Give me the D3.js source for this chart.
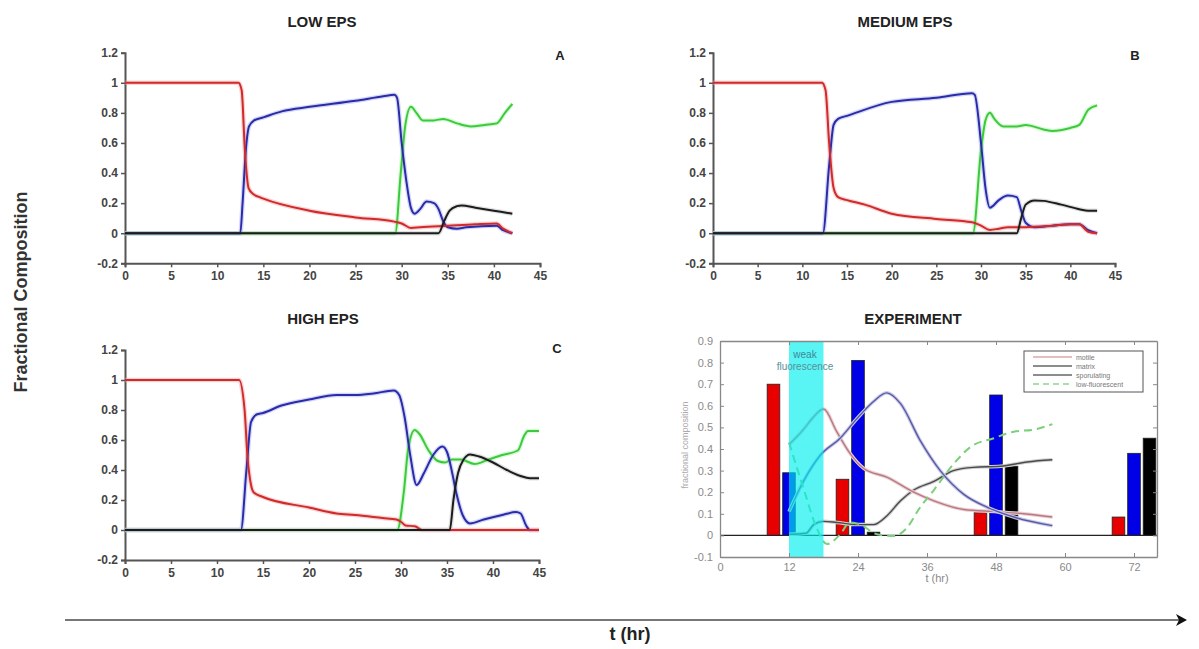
<!DOCTYPE html>
<html>
<head>
<meta charset="utf-8">
<script src="https://cdn.jsdelivr.net/npm/d3@7"></script>
<style>
  body { margin: 0; background: #fff; }
  svg { display: block; font-family: "Liberation Sans", Arial, sans-serif; }
</style>
</head>
<body>
<div id="chart"></div>
<script>
// Simulation panels: [t, fraction]
const lowMotile = [[0,1],[12.3,1],[12.65,0.95],[13,0.55],[13.4,0.3],[13.9,0.26],[14.6,0.24],[15,0.23],[20,0.15],[25,0.105],[29.2,0.077],[30,0.065],[31,0.035],[32,0.04],[35,0.05],[38,0.06],[40.3,0.065],[41,0.03],[42,0]];
const lowMatrix = [[0,0],[12.5,0],[12.75,0.2],[13.1,0.55],[13.45,0.71],[14,0.75],[15,0.77],[17,0.81],[20,0.84],[25,0.88],[28,0.91],[29.2,0.92],[29.5,0.9],[30,0.6],[30.5,0.35],[31,0.17],[31.4,0.13],[32,0.16],[32.7,0.21],[33.5,0.2],[34,0.16],[34.5,0.08],[35,0.04],[36,0.03],[37,0.04],[40.3,0.05],[41,0.02],[42,0]];
const lowLowFl = [[0,0],[29.3,0],[29.9,0.4],[30.4,0.72],[31,0.84],[31.6,0.8],[32.3,0.75],[33.5,0.75],[34.5,0.76],[36,0.73],[37.5,0.71],[39,0.72],[40.3,0.73],[41.2,0.8],[42,0.86]];
const lowSpor = [[0,0],[34,0],[34.6,0.08],[35.2,0.15],[36,0.18],[36.5,0.185],[38,0.17],[40,0.15],[41.5,0.135],[42,0.13]];

const medMotile = [[0,1],[12.2,1],[12.6,0.95],[13,0.6],[13.5,0.3],[14,0.24],[15,0.22],[17,0.19],[20,0.13],[25,0.095],[29,0.073],[30,0.05],[31,0.022],[32,0.03],[33,0.04],[35,0.04],[38,0.05],[40,0.06],[41,0.06],[42,0.01],[43,0]];
const medMatrix = [[0,0],[12.3,0],[13,0.45],[13.5,0.72],[14,0.76],[15,0.78],[20,0.873],[25,0.9],[29,0.93],[29.3,0.92],[30,0.6],[30.5,0.3],[31,0.17],[32,0.22],[33,0.25],[34,0.24],[34.5,0.15],[35,0.07],[36,0.04],[38,0.05],[40,0.06],[41,0.06],[42,0.02],[43,0]];
const medLowFl = [[0,0],[29.1,0],[30,0.55],[30.5,0.75],[31,0.8],[31.5,0.76],[32.5,0.71],[34,0.71],[35,0.72],[37,0.69],[38,0.68],[40,0.7],[41,0.72],[42,0.82],[43,0.85]];
const medSpor = [[0,0],[34,0],[34.5,0.1],[35,0.19],[36,0.218],[37,0.215],[39,0.19],[41,0.16],[42,0.15],[43,0.15]];

const highMotile = [[0,1],[12.4,1],[13,0.8],[13.3,0.5],[13.7,0.3],[14,0.25],[15,0.22],[20,0.15],[23,0.11],[25,0.1],[28,0.08],[29.5,0.07],[30,0.055],[30.5,0.03],[31.5,0.025],[32.3,0],[45,0]];
const highMatrix = [[0,0],[12.6,0],[13.2,0.4],[13.7,0.72],[14.3,0.77],[15,0.78],[17,0.83],[20,0.87],[23,0.9],[25,0.9],[27,0.91],[29.2,0.93],[29.8,0.9],[30.4,0.75],[31,0.5],[31.7,0.3],[32.5,0.38],[33.5,0.5],[34.5,0.556],[35,0.52],[35.5,0.4],[36,0.25],[36.7,0.1],[37.5,0.044],[39,0.07],[41,0.1],[42.5,0.12],[43,0.11],[43.6,0.03],[44,0],[45,0]];
const highLowFl = [[0,0],[29.6,0],[30.3,0.25],[30.8,0.55],[31.5,0.667],[32,0.64],[33,0.53],[34,0.46],[34.8,0.45],[35.5,0.47],[36.5,0.47],[38,0.44],[39.5,0.47],[41,0.5],[42.7,0.53],[43.4,0.63],[43.8,0.66],[45,0.66]];
const highSpor = [[0,0],[35.3,0],[35.7,0.2],[36.2,0.38],[36.8,0.47],[37.5,0.504],[38.5,0.49],[40,0.45],[41.5,0.4],[43,0.36],[44,0.345],[45,0.345]];

const simYTicks = [-0.2, 0, 0.2, 0.4, 0.6, 0.8, 1, 1.2];
const simXTicks = [0, 5, 10, 15, 20, 25, 30, 35, 40, 45];

// Experiment panel
const expTimes = [12, 24, 48, 72];
const expMotileBars = [0.70, 0.26, 0.105, 0.085];
const expMatrixBars = [0.29, 0.81, 0.65, 0.38];
const expSporBars = [0, 0.015, 0.32, 0.45];
const expMotile = [[12,0.42],[14.5,0.49],[16,0.54],[18,0.585],[20.3,0.48],[22.6,0.38],[25,0.31],[29,0.27],[33.7,0.2],[37.2,0.16],[42.4,0.12],[48.2,0.11],[52.8,0.1],[57.8,0.085]];
const expMatrix = [[12,0.11],[14.5,0.25],[17.4,0.37],[20.9,0.45],[23.8,0.54],[26.7,0.62],[29,0.66],[31.4,0.61],[34.8,0.44],[38.3,0.3],[42.4,0.19],[46.5,0.13],[51.1,0.085],[57.8,0.045]];
const expSpor = [[12,0.005],[15,0.01],[16.3,0.05],[18,0.065],[20.3,0.06],[23.8,0.05],[26.7,0.05],[29,0.09],[31.4,0.16],[33.7,0.21],[37.2,0.25],[40.6,0.3],[44.1,0.315],[48.8,0.32],[53.4,0.34],[57.8,0.35]];
const expLowFl = [[12,0.43],[14.5,0.22],[16.8,0.035],[18.6,-0.04],[20.9,0.005],[22.6,0.06],[24.4,0.05],[27.3,0.005],[30.2,-0.003],[32.5,0.035],[34.8,0.13],[37.2,0.21],[40.6,0.33],[43.6,0.41],[47.6,0.45],[51.1,0.48],[54.6,0.49],[57.8,0.515]];
const weakBand = [12, 18];
const expYTicks = [-0.1, 0, 0.1, 0.2, 0.3, 0.4, 0.5, 0.6, 0.7, 0.8, 0.9];
const expXTicks = [0, 12, 24, 36, 48, 60, 72];
const legendLabels = ["motile", "matrix", "sporulating", "low-fluorescent"];

const svg = d3.select("#chart").append("svg")
  .attr("width", 1199)
  .attr("height", 649);

const colors = { motile: "#d02a2a", matrix: "#2b2ba8", lowfl: "#3cca3c", spor: "#1c1c1c" };
const halos = { motile: "#f0a0a0", matrix: "#a0a8f0", lowfl: "#a8f0a8", spor: "#bbbbbb" };
const fmt = d => String(+d.toFixed(1));  // plain hyphen minus like the original

function simPanel(cfg) {
  const x = d3.scaleLinear().domain([0, 45]).range([cfg.x0, cfg.x1]);
  const y = d3.scaleLinear().domain([-0.2, 1.2]).range([cfg.y0, cfg.y1]);
  const g = svg.append("g");

  const yAxis = g.append("g")
    .attr("transform", `translate(${cfg.x0},0)`)
    .call(d3.axisLeft(y).tickValues(simYTicks).tickSize(4).tickPadding(3).tickFormat(fmt));
  const xAxis = g.append("g")
    .attr("transform", `translate(0,${cfg.y0})`)
    .call(d3.axisBottom(x).tickValues(simXTicks).tickSize(4).tickPadding(4));
  [xAxis, yAxis].forEach(a => {
    a.select(".domain").attr("stroke", "#555").attr("stroke-width", 2);
    a.selectAll(".tick line").attr("stroke", "#555").attr("stroke-width", 1.5);
    a.selectAll("text").attr("fill", "#444").attr("font-weight", "bold").attr("font-size", "12px")
      .attr("font-family", "Liberation Sans, Arial, sans-serif");
  });

  const lineFn = d3.line().x(d => x(d[0])).y(d => y(d[1])).curve(d3.curveMonotoneX);
  const series = [["lowfl", cfg.lowfl], ["matrix", cfg.matrix], ["motile", cfg.motile], ["spor", cfg.spor]];
  series.forEach(([k, data]) => {
    g.append("path").attr("d", lineFn(data)).attr("fill", "none")
      .attr("stroke", halos[k]).attr("stroke-width", 4.5).attr("opacity", 0.45);
  });
  series.forEach(([k, data]) => {
    g.append("path").attr("d", lineFn(data)).attr("fill", "none")
      .attr("stroke", colors[k]).attr("stroke-width", 2);
  });

  svg.append("text").attr("x", cfg.tx).attr("y", cfg.ty).attr("text-anchor", "middle")
    .attr("font-weight", "bold").attr("font-size", "15px").attr("fill", "#222").text(cfg.title);
  svg.append("text").attr("x", cfg.lx).attr("y", cfg.ly).attr("text-anchor", "middle")
    .attr("font-weight", "bold").attr("font-size", "13px").attr("fill", "#222").text(cfg.letter);
}

simPanel({ x0: 125, x1: 540, y0: 263.3, y1: 52.7, title: "LOW EPS", tx: 322, ty: 27, letter: "A", lx: 560, ly: 60,
  motile: lowMotile, matrix: lowMatrix, lowfl: lowLowFl, spor: lowSpor });
simPanel({ x0: 713, x1: 1115, y0: 263.3, y1: 52.7, title: "MEDIUM EPS", tx: 905, ty: 27, letter: "B", lx: 1135, ly: 60,
  motile: medMotile, matrix: medMatrix, lowfl: medLowFl, spor: medSpor });
simPanel({ x0: 125, x1: 539, y0: 560, y1: 350, title: "HIGH EPS", tx: 323, ty: 324, letter: "C", lx: 557, ly: 353,
  motile: highMotile, matrix: highMatrix, lowfl: highLowFl, spor: highSpor });

// Experiment panel
const ex = d3.scaleLinear().domain([0, 76]).range([720, 1157]);
const ey = d3.scaleLinear().domain([-0.1, 0.9]).range([557, 341]);
const eg = svg.append("g");

eg.append("rect").attr("x", ex(0)).attr("y", ey(0.9)).attr("width", ex(76) - ex(0)).attr("height", ey(-0.1) - ey(0.9))
  .attr("fill", "#fff");

const barW = 2.2, barOff = 2.7;
const barSets = [[expMotileBars, -barOff, "#e80000"], [expMatrixBars, 0, "#0000e6"], [expSporBars, barOff, "#000"]];
barSets.forEach(([vals, off, col]) => {
  eg.selectAll(null).data(vals.map((v, i) => ({ t: expTimes[i] + off, v }))).enter()
    .filter(d => d.v > 0)
    .append("rect")
    .attr("x", d => ex(d.t - barW / 2))
    .attr("width", ex(barW) - ex(0))
    .attr("y", d => ey(d.v))
    .attr("height", d => ey(0) - ey(d.v))
    .attr("fill", col).attr("stroke", "#222").attr("stroke-width", 0.8);
});

eg.append("line").attr("x1", ex(0)).attr("x2", ex(76)).attr("y1", ey(0)).attr("y2", ey(0))
  .attr("stroke", "#222").attr("stroke-width", 1.3);

const eLine = d3.line().x(d => ex(d[0])).y(d => ey(d[1])).curve(d3.curveMonotoneX);
const expSeries = [
  [expSpor, "#4a4a4a", null, "#cfcfcf"],
  [expMotile, "#b87a82", null, "#ead0d4"],
  [expMatrix, "#5a5aa0", null, "#c8c8ec"],
  [expLowFl, "#7ccf7c", "8,5", null]
];
expSeries.forEach(([data, col, dash, halo]) => {
  if (halo) eg.append("path").attr("d", eLine(data)).attr("fill", "none").attr("stroke", halo).attr("stroke-width", 3.5);
  eg.append("path").attr("d", eLine(data)).attr("fill", "none").attr("stroke", col)
    .attr("stroke-width", dash ? 2 : 1.4).attr("stroke-dasharray", dash);
});

// weak fluorescence band on top
eg.append("rect").attr("x", ex(weakBand[0])).attr("width", ex(weakBand[1]) - ex(weakBand[0]))
  .attr("y", ey(0.9)).attr("height", ey(-0.1) - ey(0.9))
  .attr("fill", "#00eeee").attr("opacity", 0.65);
eg.append("text").attr("x", 805).attr("y", 358).attr("text-anchor", "middle").attr("font-size", "10px")
  .attr("fill", "#3d8a96").text("weak");
eg.append("text").attr("x", 805).attr("y", 370).attr("text-anchor", "middle").attr("font-size", "10px")
  .attr("fill", "#5a8f98").text("fluorescence");

// axes with inward ticks on all sides
function styleExpAxis(a) {
  a.select(".domain").attr("stroke", "#888").attr("stroke-width", 1.3);
  a.selectAll(".tick line").attr("stroke", "#888");
  a.selectAll("text").attr("fill", "#8a8a8a").attr("font-size", "11px")
    .attr("font-family", "Liberation Sans, Arial, sans-serif");
}
styleExpAxis(eg.append("g").attr("transform", `translate(${ex(0)},0)`)
  .call(d3.axisLeft(ey).tickValues(expYTicks).tickSizeInner(-4).tickSizeOuter(0).tickPadding(7).tickFormat(fmt)));
styleExpAxis(eg.append("g").attr("transform", `translate(0,${ey(-0.1)})`)
  .call(d3.axisBottom(ex).tickValues(expXTicks).tickSizeInner(-4).tickSizeOuter(0).tickPadding(6)));
styleExpAxis(eg.append("g").attr("transform", `translate(${ex(76)},0)`)
  .call(d3.axisRight(ey).tickValues(expYTicks).tickSizeInner(-4).tickSizeOuter(0).tickFormat("")));
styleExpAxis(eg.append("g").attr("transform", `translate(0,${ey(0.9)})`)
  .call(d3.axisTop(ex).tickValues(expXTicks).tickSizeInner(-4).tickSizeOuter(0).tickFormat("")));

eg.append("text").attr("x", 937).attr("y", 582).attr("text-anchor", "middle").attr("font-size", "11px")
  .attr("fill", "#888").text("t (hr)");
eg.append("text").attr("transform", "translate(688,445) rotate(-90)").attr("text-anchor", "middle")
  .attr("font-size", "9px").attr("fill", "#aaa").text("fractional composition");
svg.append("text").attr("x", 913).attr("y", 324).attr("text-anchor", "middle")
  .attr("font-weight", "bold").attr("font-size", "15px").attr("fill", "#222").text("EXPERIMENT");

// legend
const lg = eg.append("g").attr("transform", "translate(1024,351)");
lg.append("rect").attr("width", 119).attr("height", 41).attr("fill", "#fff").attr("stroke", "#555").attr("stroke-width", 1);
const legendStyles = [["#d8a8a8", null], ["#666", null], ["#666", null], ["#8cd88c", "6,4"]];
legendLabels.forEach((lab, i) => {
  const yy = 6 + i * 9;
  lg.append("line").attr("x1", 9).attr("x2", 48).attr("y1", yy).attr("y2", yy)
    .attr("stroke", legendStyles[i][0]).attr("stroke-width", 1.6).attr("stroke-dasharray", legendStyles[i][1]);
  lg.append("text").attr("x", 52).attr("y", yy + 2.5).attr("font-size", "7px").attr("fill", "#777").text(lab);
});

// shared labels
svg.append("text").attr("transform", "translate(27,292) rotate(-90)").attr("text-anchor", "middle")
  .attr("font-weight", "bold").attr("font-size", "18px").attr("fill", "#333").text("Fractional Composition");

svg.append("line").attr("x1", 65).attr("x2", 1180).attr("y1", 620).attr("y2", 620)
  .attr("stroke", "#777").attr("stroke-width", 2);
svg.append("path").attr("d", "M1176,614 L1187,620 L1176,626 L1179,620 Z").attr("fill", "#111");
svg.append("text").attr("x", 630).attr("y", 640).attr("text-anchor", "middle")
  .attr("font-weight", "bold").attr("font-size", "18px").attr("fill", "#222").text("t (hr)");
</script>
</body>
</html>
